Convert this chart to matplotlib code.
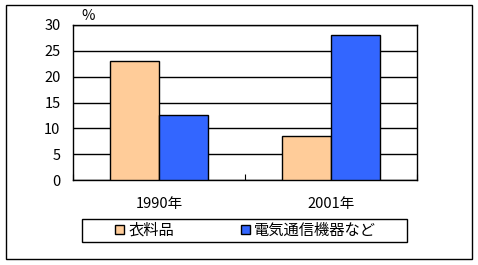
import numpy as np
import matplotlib
matplotlib.use("Agg")
import matplotlib.pyplot as plt
from matplotlib.patches import Rectangle

plt.rcParams['font.family'] = ['Noto Sans CJK JP', 'DejaVu Sans']

# data
years = ['1990年', '2001年']
series_names = ['衣料品', '電気通信機器など']
clothing = [23.0, 8.5]
telecom = [12.5, 28.0]
colors = ['#FFCC99', '#3366FF']

W, H = 478, 265
fig = plt.figure(figsize=(W / 100, H / 100), dpi=100)
ax = fig.add_axes([73 / W, 1 - 180 / H, (417 - 73) / W, (180 - 25) / H])

x = np.arange(len(years))
bw = 1 / 3.5
ax.bar(x - bw / 2, clothing, bw, color=colors[0], edgecolor='black', linewidth=1,
       label=series_names[0], zorder=3)
ax.bar(x + bw / 2, telecom, bw, color=colors[1], edgecolor='black', linewidth=1,
       label=series_names[1], zorder=3)

ax.set_xlim(-0.5, 1.5)
ax.set_ylim(0, 30)
ax.set_yticks(range(0, 31, 5))
ax.yaxis.grid(True, color='black', linewidth=1, zorder=0)
ax.set_axisbelow(True)
ax.tick_params(axis='y', length=0, labelsize=10.5, pad=9)

ax.set_xticks([-0.5, 0.5, 1.5])
ax.set_xticklabels([])
ax.set_xticks(x, minor=True)
ax.set_xticklabels(years, minor=True, fontsize=10.5)
ax.tick_params(axis='x', which='major', direction='in', length=4, color='black')
ax.tick_params(axis='x', which='minor', length=0, pad=12)
for s in ax.spines.values():
    s.set_color('black')
    s.set_linewidth(1)

fig.text(81 / W, 1 - 16 / H, '%', fontsize=10.5, va='center', ha='left')

# legend box drawn separately, legend entries placed inside it
fig.patches.append(Rectangle((82 / W, 1 - 242 / H), (407 - 82) / W, 23 / H,
                             transform=fig.transFigure, fill=False,
                             edgecolor='black', linewidth=1))
handles, labels = ax.get_legend_handles_labels()
fs = 11
px = fs * 100 / 72
leg = fig.legend(handles, labels, loc='center left', ncol=2,
                 bbox_to_anchor=(115 / W, 1 - 230.5 / H),
                 frameon=False, fontsize=fs,
                 handlelength=0.6, handleheight=0.6, handletextpad=0.3,
                 columnspacing=66 / px, borderpad=0, borderaxespad=0)
for p in leg.get_patches():
    p.set_linewidth(1)

fig.patches.append(Rectangle((6 / W, 1 - 259 / H), (472 - 6) / W, (259 - 5) / H,
                             transform=fig.transFigure, fill=False,
                             edgecolor='black', linewidth=1))

fig.savefig('out.png', dpi=100)
